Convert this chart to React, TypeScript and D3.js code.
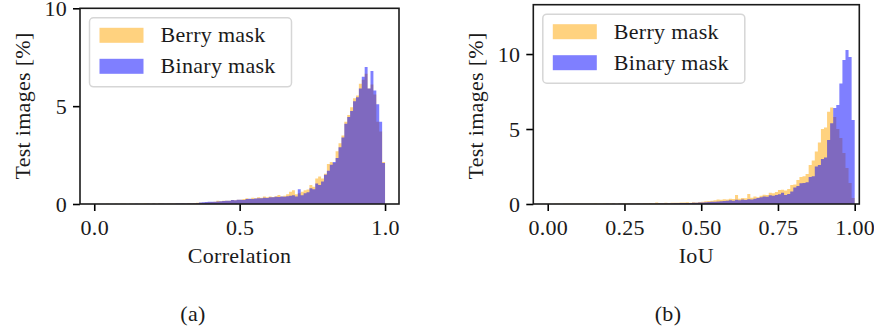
import React, { useRef, useEffect } from 'react';
import * as d3 from 'd3';

// histogram heights in % of test images, 100 bins of width 0.01 from 0 to 1
const corrBerry = [
  0, 0.01, 0, 0, 0.01, 0, 0, 0.01, 0, 0.01,
  0.01, 0, 0.01, 0.01, 0, 0.01, 0.01, 0.02, 0.01, 0.01,
  0.02, 0.01, 0.02, 0.02, 0.01, 0.02, 0.03, 0.02, 0.03, 0.03,
  0.04, 0.03, 0.05, 0.04, 0.05, 0.06, 0.07, 0.06, 0.08, 0.09,
  0.1, 0.12, 0.16, 0.14, 0.17, 0.17, 0.16, 0.2, 0.19, 0.22,
  0.22, 0.25, 0.3, 0.26, 0.32, 0.3, 0.35, 0.32, 0.38, 0.34,
  0.38, 0.36, 0.4, 0.46, 0.38, 0.42, 0.5, 0.62, 0.7, 0.5,
  0.55, 0.62, 0.7, 0.74, 0.97, 0.88, 1.3, 1.4, 1.3, 1.55,
  2.05, 2.15, 2.1, 2.7, 3.1, 3.5, 4.2, 4.55, 4.95, 5.4,
  5.55, 6.15, 6.35, 6.65, 5.9, 6.1, 5.6, 4.2, 3.7, 2.15,
];
const corrBinary = [
  0, 0, 0, 0, 0, 0, 0, 0, 0, 0,
  0, 0, 0, 0, 0.01, 0, 0, 0, 0.01, 0,
  0.01, 0, 0.01, 0.01, 0.01, 0.01, 0.01, 0.01, 0.02, 0.02,
  0.02, 0.02, 0.02, 0.03, 0.03, 0.04, 0.08, 0.09, 0.1, 0.11,
  0.11, 0.12, 0.13, 0.14, 0.15, 0.16, 0.17, 0.2, 0.19, 0.22,
  0.22, 0.2, 0.25, 0.27, 0.25, 0.28, 0.3, 0.3, 0.32, 0.31,
  0.35, 0.34, 0.37, 0.36, 0.38, 0.37, 0.4, 0.42, 0.45, 0.38,
  0.75, 0.45, 0.55, 0.6, 0.8, 0.75, 1.05, 0.97, 1.15, 1.5,
  1.7, 2.0, 2.15, 2.35, 2.9, 3.4, 4.1, 4.45, 4.75, 5.25,
  5.45, 5.9, 6.5, 7.0, 5.9, 6.8, 5.8, 5.1, 4.2, 2.1,
];
const iouBerry = [
  0.01, 0, 0.01, 0.01, 0, 0.01, 0.02, 0.01, 0.01, 0.02,
  0.02, 0.01, 0.02, 0.02, 0.02, 0.03, 0.02, 0.02, 0.03, 0.02,
  0.03, 0.03, 0.02, 0.03, 0.04, 0.03, 0.04, 0.03, 0.04, 0.05,
  0.04, 0.05, 0.05, 0.06, 0.05, 0.1, 0.06, 0.07, 0.08, 0.07,
  0.08, 0.09, 0.08, 0.1, 0.1, 0.11, 0.09, 0.12, 0.1, 0.13,
  0.15, 0.18, 0.2, 0.22, 0.25, 0.3, 0.28, 0.32, 0.3, 0.35,
  0.33, 0.6, 0.35, 0.4, 0.38, 0.67, 0.42, 0.5, 0.45, 0.55,
  0.62, 0.6, 0.75, 0.72, 0.8, 0.93, 0.95, 0.9, 1.0, 1.27,
  1.3, 1.6, 1.8, 1.85, 2.0, 2.6, 2.9, 3.5, 4.1, 5.0,
  5.1, 6.15, 6.44, 5.8, 5.0, 4.4, 3.4, 2.4, 1.4, 0.4,
];
const iouBinary = [
  0, 0, 0, 0, 0, 0, 0, 0, 0, 0,
  0, 0, 0, 0, 0, 0, 0, 0, 0, 0.01,
  0, 0.01, 0, 0.01, 0.01, 0, 0.01, 0.01, 0.01, 0.01,
  0.01, 0.01, 0.02, 0.02, 0.02, 0.02, 0.03, 0.03, 0.03, 0.04,
  0.04, 0.05, 0.05, 0.06, 0.06, 0.07, 0.07, 0.08, 0.09, 0.1,
  0.1, 0.12, 0.13, 0.15, 0.15, 0.17, 0.18, 0.2, 0.22, 0.25,
  0.22, 0.28, 0.25, 0.3, 0.27, 0.32, 0.3, 0.35, 0.4, 0.45,
  0.5, 0.48, 0.58, 0.55, 0.6, 0.65, 0.75, 0.6, 0.67, 0.83,
  1.1, 1.2, 1.38, 1.4, 1.45, 1.8, 1.85, 2.5, 2.6, 3.0,
  3.1, 4.27, 5.38, 6.4, 6.6, 8.04, 9.6, 10.27, 9.8, 5.6,
];

const seriesNames = ['Berry mask', 'Binary mask'];
const corrTicks = [0, 0.5, 1.0];
const iouTicks = [0, 0.25, 0.5, 0.75, 1.0];
const yTicks = [0, 5, 10];

const FONT = "'Liberation Serif', 'Times New Roman', serif";
const FS = 22;
const LS = 0.3;
const colors = ['orange', 'blue'];

function drawPanel(svg, p) {
  const { x0, x1, y0, y1, xDomain, yMax, xTicks, xFmt, data, xLabel, caption } = p;
  const g = svg.append('g');

  const x = d3.scaleLinear().domain(xDomain).range([x0, x1]);
  const y = d3.scaleLinear().domain([0, yMax]).range([y1, y0]);

  // histograms as step areas
  data.forEach((vals, si) => {
    const pts = vals.map((v, i) => [i / vals.length, v]);
    pts.push([1, vals[vals.length - 1]]);
    const area = d3.area()
      .x(d => x(d[0]))
      .y0(y(0))
      .y1(d => y(d[1]))
      .curve(d3.curveStepAfter);
    g.append('path')
      .attr('d', area(pts))
      .attr('fill', colors[si])
      .attr('fill-opacity', 0.5);
  });

  // axes
  const ax = g.append('g')
    .attr('transform', `translate(0,${y1})`)
    .call(d3.axisBottom(x).tickValues(xTicks).tickFormat(d3.format(xFmt)).tickSize(7).tickPadding(8));
  const ay = g.append('g')
    .attr('transform', `translate(${x0},0)`)
    .call(d3.axisLeft(y).tickValues(yTicks).tickSize(7).tickPadding(6));
  [ax, ay].forEach(a => {
    a.select('.domain').remove();
    a.attr('font-family', FONT).attr('font-size', FS);
    a.selectAll('line').attr('stroke', '#000').attr('stroke-width', 1.6);
    a.selectAll('text').attr('fill', '#1a1a1a').attr('letter-spacing', LS);
  });

  // frame
  g.append('rect')
    .attr('x', x0).attr('y', y0)
    .attr('width', x1 - x0).attr('height', y1 - y0)
    .attr('fill', 'none').attr('stroke', '#1a1a1a').attr('stroke-width', 1.6);

  // legend
  const lx = x0 + 9.5, ly = y0 + 9.5;
  const lg = g.append('g').attr('transform', `translate(${lx},${ly})`);
  lg.append('rect')
    .attr('width', 202).attr('height', 69).attr('rx', 4)
    .attr('fill', '#fff').attr('fill-opacity', 0.8)
    .attr('stroke', '#d6d6d6').attr('stroke-width', 1.5);
  seriesNames.forEach((name, i) => {
    lg.append('rect')
      .attr('x', 10).attr('y', 10 + i * 31)
      .attr('width', 44).attr('height', 15)
      .attr('fill', colors[i]).attr('fill-opacity', 0.5);
    lg.append('text')
      .attr('x', 71).attr('y', 24.5 + i * 31)
      .attr('font-family', FONT).attr('font-size', FS)
      .attr('letter-spacing', LS)
      .attr('fill', '#1a1a1a')
      .text(name);
  });

  // labels
  const label = (sel) => sel
    .attr('text-anchor', 'middle')
    .attr('font-family', FONT).attr('font-size', FS)
    .attr('letter-spacing', LS).attr('fill', '#1a1a1a');
  g.append('text')
    .attr('x', (x0 + x1) / 2).attr('y', 263)
    .call(label)
    .text(xLabel);
  g.append('text')
    .attr('transform', `translate(${x0 - 50},106) rotate(-90)`)
    .call(label)
    .text('Test images [%]');
  g.append('text')
    .attr('x', p.captionX).attr('y', 321)
    .call(label)
    .text(caption);
}

export default function App() {
  const ref = useRef(null);

  useEffect(() => {
    const svg = d3.select(ref.current);
    svg.selectAll('*').remove();

    drawPanel(svg, {
      x0: 80, x1: 399, y0: 8.3, y1: 204,
      xDomain: [-0.049, 1.048], yMax: 10,
      xTicks: corrTicks, xFmt: '.1f',
      data: [corrBerry, corrBinary],
      xLabel: 'Correlation', caption: '(a)', captionX: 193,
    });
    drawPanel(svg, {
      x0: 533.3, x1: 859.3, y0: 4.7, y1: 204,
      xDomain: [-0.047, 1.015], yMax: 13.29,
      xTicks: iouTicks, xFmt: '.2f',
      data: [iouBerry, iouBinary],
      xLabel: 'IoU', caption: '(b)', captionX: 668,
    });
  }, []);

  return (
    <svg
      ref={ref}
      width={874}
      height={330}
      style={{ position: 'absolute', left: 0, top: 0, background: '#fff' }}
    />
  );
}
